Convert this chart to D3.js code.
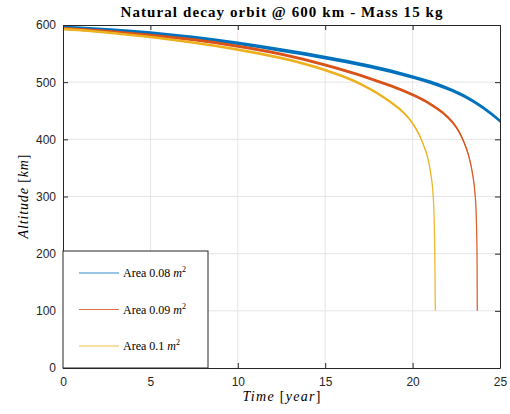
<!DOCTYPE html>
<html><head><meta charset="utf-8">
<script src="https://cdn.jsdelivr.net/npm/d3@7"></script>
<style>body{margin:0;background:#fff}</style>
</head><body>
<svg id="c" width="510" height="414"></svg>
<script>
const titleText = "Natural decay orbit @ 600 km - Mass 15 kg";
const xTicks = [0, 5, 10, 15, 20, 25];
const yTicks = [0, 100, 200, 300, 400, 500, 600];
const seriesNames = ["Area 0.08", "Area 0.09", "Area 0.1"];
const seriesColors = ["#0072BD", "#D95319", "#EDB120"];
const blueT = [0, 2.5, 5, 7.5, 10, 12.5, 15, 17.5, 20, 21, 22, 23, 24, 25];
const blueA = [596, 591.5, 586, 578, 568, 556, 543, 528, 509, 500, 489, 475, 456, 432];
const redT = [0, 2.5, 5, 7.5, 10, 12.5, 15, 17.5, 20, 21, 22, 22.5, 22.9, 23.2, 23.4, 23.57, 23.63, 23.67, 23.69, 23.7];
const redA = [594, 589, 582, 574, 563, 549, 530, 507, 478, 462, 439, 421, 398, 372, 345, 305, 276, 230, 180, 100];
const yelT = [0, 2.5, 5, 7.5, 10, 12.5, 15, 17.2, 18.7, 19.5, 20, 20.6, 21, 21.18, 21.22, 21.26, 21.28, 21.3];
const yelA = [593, 587, 579, 569, 557, 542, 521, 494, 466, 446, 428, 392, 347, 300, 276, 220, 170, 100];

const svg = d3.select("#c");
const L = 63, R = 500, T = 25, B = 368;
const x = d3.scaleLinear().domain([0, 25]).range([L, R]);
const y = d3.scaleLinear().domain([0, 600]).range([B, T]);
const axisCol = "#262626";

// grid
svg.append("g").selectAll("line").data(xTicks.slice(1, -1)).join("line")
  .attr("x1", d => x(d)).attr("x2", d => x(d)).attr("y1", T).attr("y2", B)
  .attr("stroke", "#e5e5e5").attr("stroke-width", 1);
svg.append("g").selectAll("line").data(yTicks.slice(1, -1)).join("line")
  .attr("y1", d => y(d)).attr("y2", d => y(d)).attr("x1", L).attr("x2", R)
  .attr("stroke", "#e5e5e5").attr("stroke-width", 1);

// series: a thin line plus a vertical band (altitude oscillation)
const series = [[blueT, blueA], [redT, redA], [yelT, yelA]].map(([t, a]) => t.map((v, i) => [v, a[i]]));
const bands = [3.6, 3.0, 2.6];
const line = d3.line().x(d => x(d[0])).y(d => y(d[1])).curve(d3.curveMonotoneX);
series.forEach((s, i) => {
  const area = d3.area().x(d => x(d[0]))
    .y0(d => y(d[1]) + bands[i] / 2).y1(d => y(d[1]) - bands[i] / 2).curve(d3.curveMonotoneX);
  svg.append("path").datum(s.filter(d => d[1] >= 200)).attr("d", area)
    .attr("fill", seriesColors[i]).attr("stroke", "none");
  svg.append("path").datum(s).attr("d", line).attr("fill", "none")
    .attr("stroke", seriesColors[i]).attr("stroke-width", 1.3).attr("opacity", 0.9);
});

// axes
const gx = svg.append("g").attr("transform", `translate(0,${B})`)
  .call(d3.axisBottom(x).tickValues(xTicks).tickSize(-5).tickPadding(9).tickSizeOuter(0));
const gy = svg.append("g").attr("transform", `translate(${L},0)`)
  .call(d3.axisLeft(y).tickValues(yTicks).tickSize(-5).tickPadding(7).tickSizeOuter(0));
const gx2 = svg.append("g").attr("transform", `translate(0,${T})`)
  .call(d3.axisTop(x).tickValues(xTicks).tickSize(-5).tickFormat("").tickSizeOuter(0));
const gy2 = svg.append("g").attr("transform", `translate(${R},0)`)
  .call(d3.axisRight(y).tickValues(yTicks).tickSize(-5).tickFormat("").tickSizeOuter(0));
[gx, gy, gx2, gy2].forEach(g => {
  g.selectAll("path,line").attr("stroke", axisCol);
  g.selectAll("text").attr("fill", axisCol).style("font-family", "'Liberation Sans', Arial, sans-serif").style("font-size", "12px");
});

// title
svg.append("text").attr("x", (L + R) / 2).attr("y", 17).attr("text-anchor", "middle")
  .attr("textLength", 322).attr("lengthAdjust", "spacing")
  .style("font-family", "'Liberation Serif', 'DejaVu Serif', serif").style("font-weight", "bold")
  .style("font-size", "15px").attr("fill", "#000").text(titleText);

// axis labels
const xl = svg.append("text").attr("x", (L + R) / 2).attr("y", 401).attr("text-anchor", "middle")
  .style("font-family", "'Liberation Serif', serif").style("font-size", "14px").attr("fill", "#000")
  .attr("textLength", 78).attr("lengthAdjust", "spacing");
xl.append("tspan").style("font-style", "italic").text("Time");
xl.append("tspan").text(" [");
xl.append("tspan").style("font-style", "italic").text("year");
xl.append("tspan").text("]");

const yl = svg.append("text").attr("transform", `translate(28,${(T + B) / 2}) rotate(-90)`).attr("text-anchor", "middle")
  .style("font-family", "'Liberation Serif', serif").style("font-size", "14px").attr("fill", "#000")
  .attr("textLength", 84).attr("lengthAdjust", "spacing");
yl.append("tspan").style("font-style", "italic").text("Altitude");
yl.append("tspan").text(" [");
yl.append("tspan").style("font-style", "italic").text("km");
yl.append("tspan").text("]");

// legend
const lg = svg.append("g");
lg.append("rect").attr("x", L).attr("y", 251).attr("width", 145).attr("height", B - 251)
  .attr("fill", "#fff").attr("stroke", axisCol).attr("stroke-width", 1);
seriesNames.forEach((n, i) => {
  const yy = 273 + i * 36.5;
  lg.append("line").attr("x1", 79).attr("x2", 119).attr("y1", yy).attr("y2", yy)
    .attr("stroke", seriesColors[i]).attr("stroke-width", 1.2).attr("opacity", 0.8);
  const t = lg.append("text").attr("x", 123).attr("y", yy + 4)
    .style("font-family", "'Liberation Serif', serif").style("font-size", "12px").attr("fill", "#000");
  t.append("tspan").text(n + " ");
  t.append("tspan").style("font-style", "italic").text("m");
  t.append("tspan").attr("dy", -5).style("font-size", "8px").text("2");
});
</script>
</body></html>
